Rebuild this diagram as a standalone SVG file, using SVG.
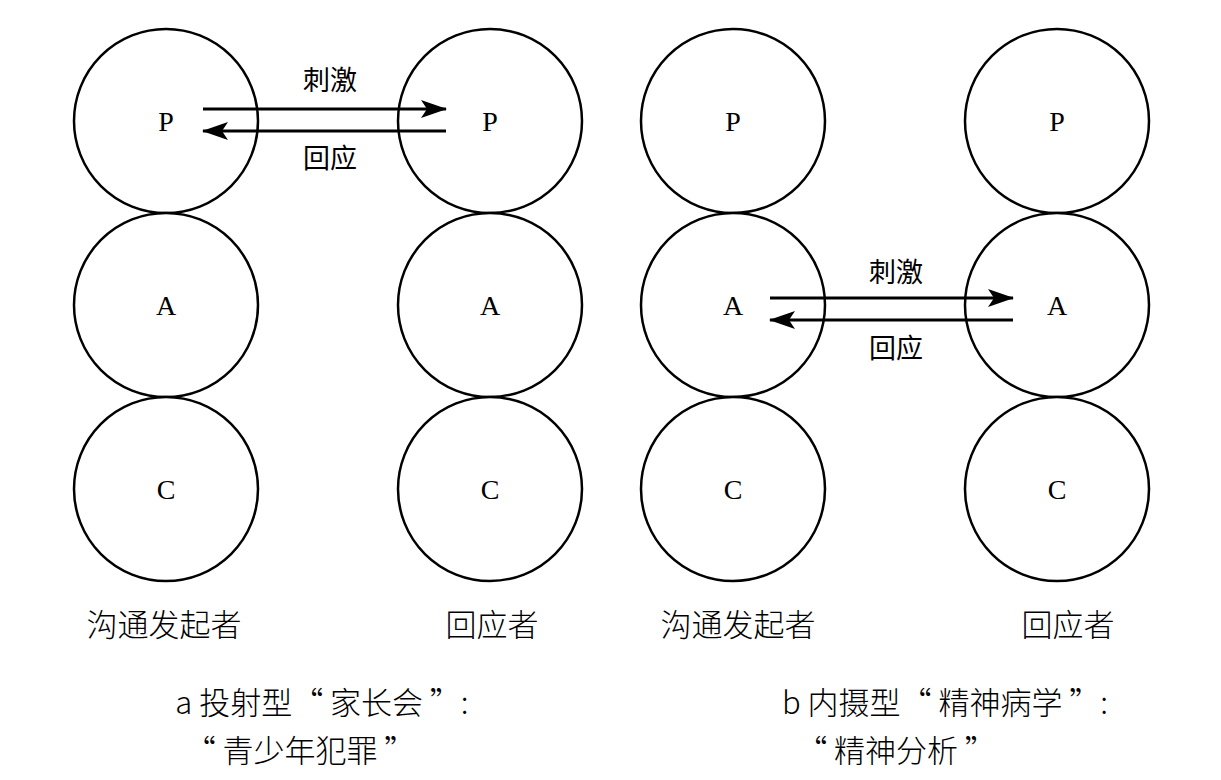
<svg xmlns="http://www.w3.org/2000/svg" width="1221" height="780" viewBox="0 0 1221 780">
<defs>
<marker id="ah" viewBox="0 0 26 18" refX="25" refY="9" markerWidth="26" markerHeight="18" markerUnits="userSpaceOnUse" orient="auto">
<path d="M0,0 L26,9 L0,18 L6,9 Z" fill="#000"/>
</marker>
<style>
circle{fill:#fff;stroke:#000;stroke-width:2.5}
.l{font-family:"Liberation Serif",serif;font-size:28px;text-anchor:middle}
.c{font-family:"Noto Sans CJK SC",sans-serif;font-size:27px;text-anchor:middle}
.t{font-family:"Noto Sans CJK SC",sans-serif;font-size:31px;font-weight:300;text-anchor:middle}
line{stroke:#000;stroke-width:3;marker-end:url(#ah)}
</style>
</defs>
<rect width="1221" height="780" fill="#fff"/>
<g id="nodes">
<g id="a1P"><circle cx="166" cy="121" r="92"/><text class="l" x="166" y="131">P</text></g>
<g id="a1A"><circle cx="166" cy="305" r="92"/><text class="l" x="166" y="315">A</text></g>
<g id="a1C"><circle cx="166" cy="489" r="92"/><text class="l" x="166" y="499">C</text></g>
<g id="a2P"><circle cx="490" cy="121" r="92"/><text class="l" x="490" y="131">P</text></g>
<g id="a2A"><circle cx="490" cy="305" r="92"/><text class="l" x="490" y="315">A</text></g>
<g id="a2C"><circle cx="490" cy="489" r="92"/><text class="l" x="490" y="499">C</text></g>
<g id="b1P"><circle cx="733" cy="121" r="92"/><text class="l" x="733" y="131">P</text></g>
<g id="b1A"><circle cx="733" cy="305" r="92"/><text class="l" x="733" y="315">A</text></g>
<g id="b1C"><circle cx="733" cy="489" r="92"/><text class="l" x="733" y="499">C</text></g>
<g id="b2P"><circle cx="1057" cy="121" r="92"/><text class="l" x="1057" y="131">P</text></g>
<g id="b2A"><circle cx="1057" cy="305" r="92"/><text class="l" x="1057" y="315">A</text></g>
<g id="b2C"><circle cx="1057" cy="489" r="92"/><text class="l" x="1057" y="499">C</text></g>
</g>
<g id="connectors">
<line x1="203" y1="109" x2="446" y2="109"/>
<line x1="446" y1="131" x2="203" y2="131"/>
<line x1="770" y1="298" x2="1013" y2="298"/>
<line x1="1013" y1="320" x2="770" y2="320"/>
</g>
<g id="labels">
<text class="c" x="330" y="90">刺激</text>
<text class="c" x="330" y="168">回应</text>
<text class="c" x="896" y="282">刺激</text>
<text class="c" x="896" y="358">回应</text>
<text class="t" x="164" y="636">沟通发起者</text>
<text class="t" x="492" y="636">回应者</text>
<text class="t" x="738" y="636">沟通发起者</text>
<text class="t" x="1068" y="636">回应者</text>
<text class="t" x="322" y="714">a 投射型“ 家长会 ”:</text>
<text class="t" x="300" y="762">“ 青少年犯罪 ”</text>
<text class="t" x="945" y="714">b 内摄型“ 精神病学 ”:</text>
<text class="t" x="896" y="762">“ 精神分析 ”</text>
</g>
</svg>
